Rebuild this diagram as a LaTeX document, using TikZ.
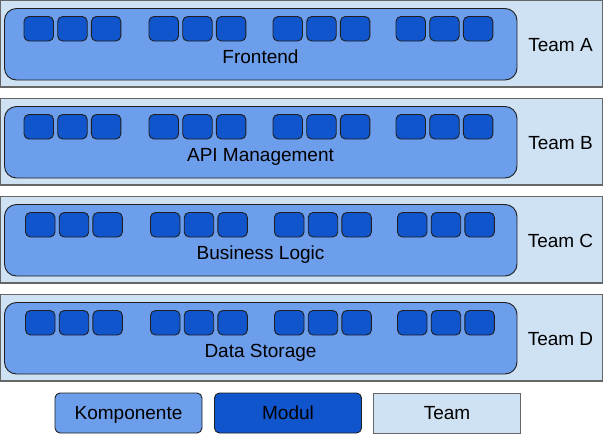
\documentclass[tikz,border=0pt]{standalone}
\usepackage{fontspec}
\setmainfont{Liberation Sans}
\definecolor{teamfill}{HTML}{CFE2F3}
\definecolor{teamdraw}{HTML}{666666}
\definecolor{compfill}{HTML}{6D9EEB}
\definecolor{modfill}{HTML}{1155CC}
\definecolor{darkline}{HTML}{1F1F1F}
\tikzset{
  teambox/.style={draw=teamdraw, fill=teamfill, line width=1.2pt},
  compbox/.style={draw=darkline, fill=compfill, line width=0.9pt, rounded corners=12pt},
  modbox/.style={draw=darkline, fill=modfill, line width=0.9pt, rounded corners=5pt},
  lbl/.style={font=\fontsize{19pt}{21pt}\selectfont, text=black, inner sep=0pt},
  legend/.style={minimum width=147pt, minimum height=40pt, inner sep=0pt, line width=0.9pt,
     font=\fontsize{19pt}{21pt}\selectfont, text height=13.6pt, text depth=0pt},
}
\begin{document}
\begin{tikzpicture}[x=1pt,y=-1pt]
\useasboundingbox (0,0) rectangle (603,434);
\foreach \r/\t/\name/\sh [count=\i from 0] in {A/Team A/Frontend/0, B/Team B/API Management/0, C/Team C/Business Logic/1.5, D/Team D/Data Storage/1.5}{
  \pgfmathsetmacro{\top}{98*\i+0.5}
  \path[teambox] (0.6,\top) rectangle (602.4,\top+86.5) coordinate (row\r);
  \path[compbox] (4.5,\top+8) rectangle (517,\top+79.5) coordinate (comp\r);
  \foreach \g/\gx in {1/24,2/149,3/273,4/396}{
    \foreach \k in {0,1,2}{
      \path[modbox] (\gx+\sh+33.7*\k,\top+16) rectangle (\gx+\sh+33.7*\k+29.5,\top+40.5) coordinate (mod\r\g\k);
    }
  }
  \node[lbl, anchor=base] (name\r) at (260.5,\top+62.5) {\name};
  \node[lbl, anchor=base] (team\r) at (560.5,\top+51) {\t};
}
\node[legend, draw=darkline, fill=compfill, rounded corners=5pt] (legK) at (128.5,413) {Komponente};
\node[legend, draw=darkline, fill=modfill, rounded corners=5pt] (legM) at (288,413) {Modul};
\node[legend, draw=teamdraw, fill=teamfill] (legT) at (447,413) {Team};
\end{tikzpicture}
\end{document}
